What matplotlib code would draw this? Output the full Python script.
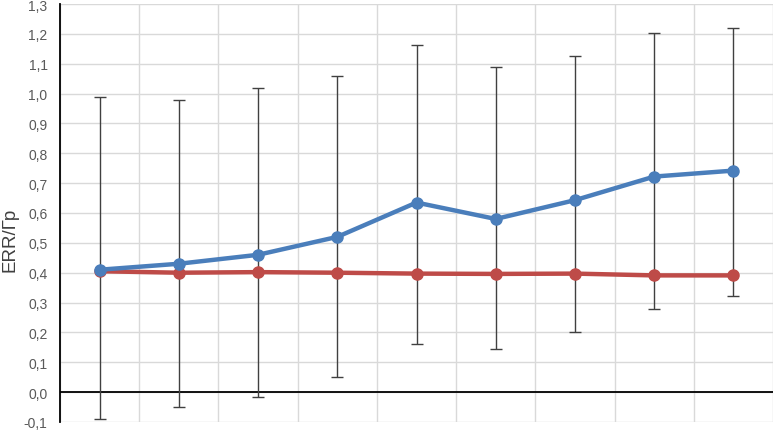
import matplotlib.pyplot as plt
from matplotlib.ticker import MultipleLocator, FuncFormatter

plt.rcParams['font.family'] = ['Liberation Sans', 'DejaVu Sans']

points = [1, 2, 3, 4, 5, 6, 7, 8, 9]
blue_vals = [0.41, 0.43, 0.46, 0.52, 0.635, 0.58, 0.643, 0.722, 0.742]
red_vals = [0.405, 0.40, 0.402, 0.40, 0.397, 0.396, 0.397, 0.391, 0.391]
err_high = [0.99, 0.98, 1.02, 1.06, 1.163, 1.09, 1.127, 1.202, 1.221]
err_low = [-0.09, -0.05, -0.017, 0.05, 0.16, 0.143, 0.203, 0.279, 0.321]

fig = plt.figure(figsize=(7.74, 4.31), dpi=100)
ax = fig.add_axes([60/774, 8/431, 713/774, 418/431])

# error bars (asymmetric, drawn about the red series)
yerr = [[r - lo for r, lo in zip(red_vals, err_low)],
        [hi - r for r, hi in zip(red_vals, err_high)]]
ax.errorbar(points, red_vals, yerr=yerr, fmt='none', ecolor='#404040',
            elinewidth=1, capsize=4, capthick=1, zorder=2)

ax.plot(points, blue_vals, color='#4a7ebb', linewidth=3.2, marker='o',
        markersize=8, zorder=4)
ax.plot(points, red_vals, color='#be4b48', linewidth=3.2, marker='o',
        markersize=8, zorder=3)

ax.set_xlim(0.5, 9.5)
ax.set_ylim(-0.1, 1.3)
ax.yaxis.set_major_locator(MultipleLocator(0.1))
ax.yaxis.set_major_formatter(FuncFormatter(lambda v, p: f"{v:.1f}".replace('.', ',').replace('-0,0', '0,0')))
ax.set_xticks([])
ax.set_xticks([x + 0.5 for x in range(0, 10)], minor=True)
ax.tick_params(axis='x', which='both', length=0, labelbottom=False)
ax.tick_params(axis='y', length=0, labelsize=10, labelcolor='#595959', pad=9)

ax.grid(axis='y', which='major', color='#d9d9d9', linewidth=1)
ax.grid(axis='x', which='minor', color='#d9d9d9', linewidth=1)
ax.set_axisbelow(True)

for s in ['top', 'right', 'bottom']:
    ax.spines[s].set_visible(False)
ax.spines['left'].set_color('black')
ax.spines['left'].set_linewidth(1.3)
ax.axhline(0, color='black', linewidth=1.3, zorder=1)

fig.text(10/774, 1 - 240/431, 'ERR/Гр', rotation=90, ha='center', va='center',
         fontsize=13.5, color='#404040')

fig.savefig('out.png', dpi=100)
